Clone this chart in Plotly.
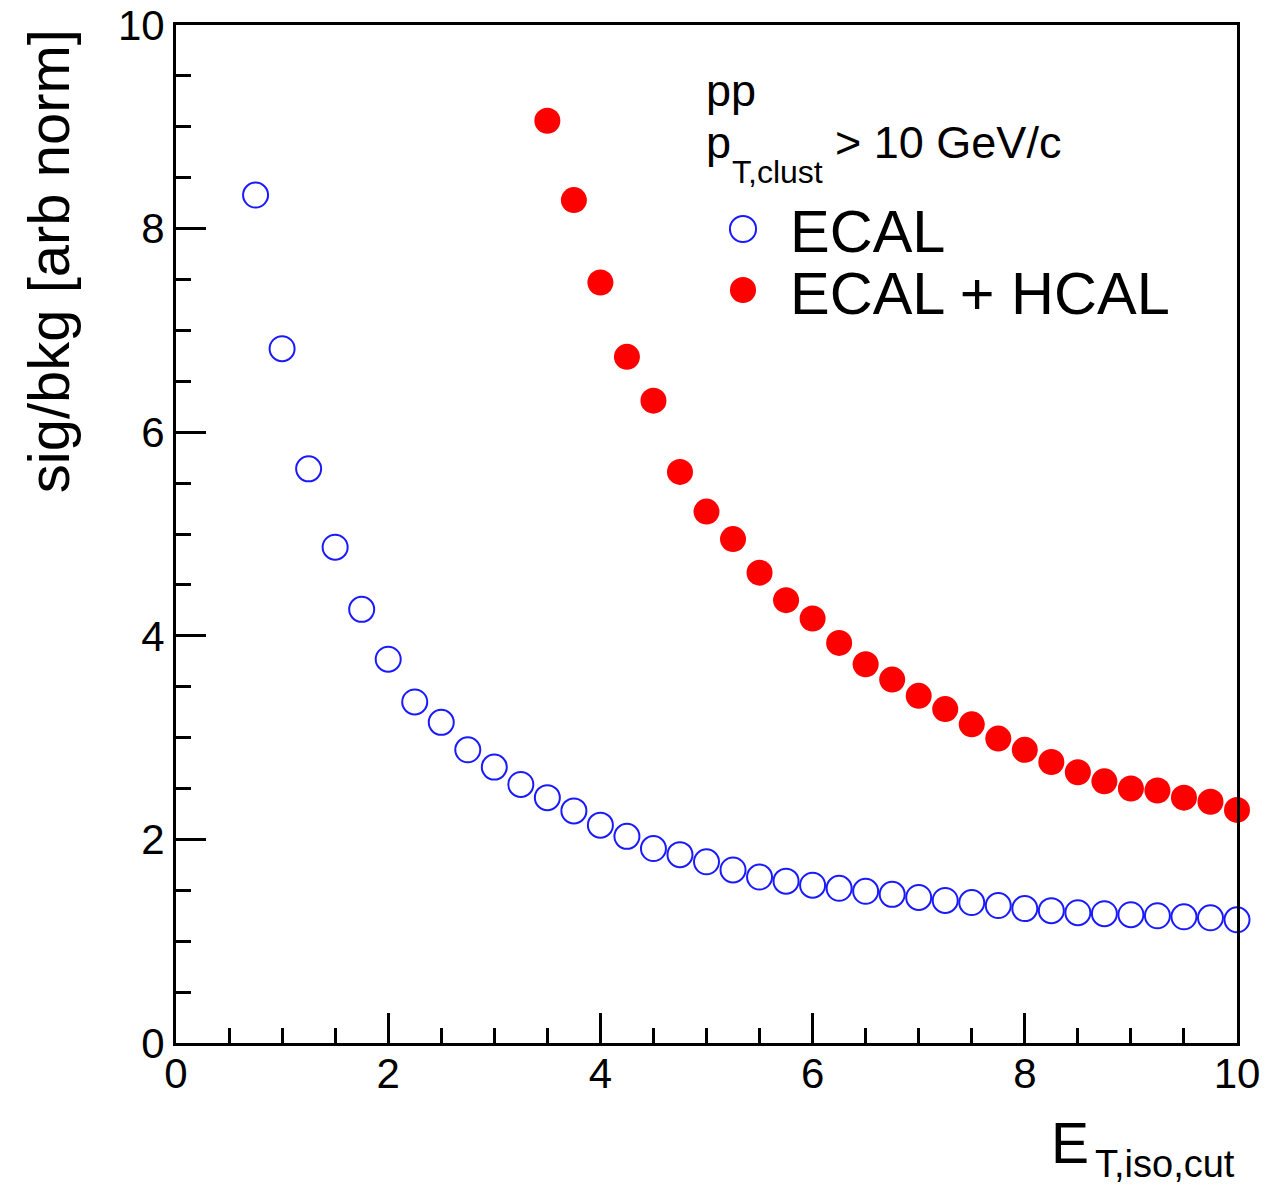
import plotly.graph_objects as go

x_ecal = [0.75, 1.0, 1.25, 1.5, 1.75, 2.0, 2.25, 2.5, 2.75, 3.0, 3.25, 3.5, 3.75, 4.0,
          4.25, 4.5, 4.75, 5.0, 5.25, 5.5, 5.75, 6.0, 6.25, 6.5, 6.75, 7.0, 7.25, 7.5,
          7.75, 8.0, 8.25, 8.5, 8.75, 9.0, 9.25, 9.5, 9.75, 10.0]
y_ecal = [8.33, 6.82, 5.64, 4.87, 4.26, 3.77, 3.35, 3.15, 2.88, 2.71, 2.54, 2.41, 2.28, 2.14,
          2.03, 1.91, 1.85, 1.78, 1.70, 1.63, 1.59, 1.55, 1.52, 1.49, 1.46, 1.43, 1.40, 1.38,
          1.35, 1.32, 1.30, 1.28, 1.27, 1.26, 1.25, 1.24, 1.23, 1.21]

x_hcal = [3.5, 3.75, 4.0, 4.25, 4.5, 4.75, 5.0, 5.25, 5.5, 5.75, 6.0, 6.25, 6.5, 6.75,
          7.0, 7.25, 7.5, 7.75, 8.0, 8.25, 8.5, 8.75, 9.0, 9.25, 9.5, 9.75, 10.0]
y_hcal = [9.06, 8.28, 7.47, 6.74, 6.31, 5.61, 5.22, 4.95, 4.62, 4.35, 4.17, 3.93, 3.72, 3.57,
          3.41, 3.28, 3.13, 2.99, 2.88, 2.76, 2.66, 2.57, 2.50, 2.48, 2.41, 2.37, 2.29]

names = ["ECAL", "ECAL + HCAL"]
BLUE = "#1a1aff"
RED = "#ff0000"
FONT = "Liberation Sans, Arial, Helvetica, sans-serif"

fig = go.Figure()
fig.add_trace(go.Scatter(
    x=x_ecal, y=y_ecal, mode="markers", name=names[0],
    marker=dict(symbol="circle-open", size=25, color=BLUE, line=dict(width=2, color=BLUE)),
    cliponaxis=False,
))
fig.add_trace(go.Scatter(
    x=x_hcal, y=y_hcal, mode="markers", name=names[1],
    marker=dict(symbol="circle", size=26, color=RED),
    cliponaxis=False,
))

axis_common = dict(
    range=[0, 10], showline=True, mirror=True, linecolor="black", linewidth=3,
    ticks="inside", ticklen=30, tickwidth=3, tickcolor="black",
    dtick=2, tick0=0, showgrid=False, zeroline=False, automargin=False,
    tickfont=dict(family=FONT, size=42, color="black"),
    minor=dict(ticks="inside", ticklen=15, tickwidth=3, tickcolor="black", dtick=0.5, showgrid=False),
)

fig.update_layout(
    width=1287, height=1187,
    margin=dict(l=176, r=50, t=25, b=144),
    paper_bgcolor="white", plot_bgcolor="white",
    xaxis=dict(**axis_common, ticklabelstandoff=-8),
    yaxis=dict(**axis_common),
    showlegend=False,
    font=dict(family=FONT, color="black"),
)

def ann(text, x, y, size, xanchor="left", yanchor="middle", angle=0):
    fig.add_annotation(text=text, xref="paper", yref="paper", x=x, y=y,
                       xanchor=xanchor, yanchor=yanchor, textangle=angle, showarrow=False,
                       font=dict(family=FONT, size=size, color="black"))

# axis titles
ann("E", 0.8228, -0.0982, 57)
ann("T,iso,cut", 1.0, -0.1189, 38, xanchor="right")
ann("sig/bkg [arb norm]", -0.1206, 0.768, 58, xanchor="center", angle=-90)

# header text
ann("pp", 0.4976, 0.9352, 45)
ann("p", 0.4976, 0.8841, 45)
ann("T,clust", 0.522, 0.8556, 32)
ann("> 10 GeV/c", 0.6192, 0.8841, 45)

# legend
ann(names[0], 0.5768, 0.797, 59.5)
ann(names[1], 0.5768, 0.7358, 59.5)
fig.add_shape(type="circle", xref="paper", yref="paper",
              x0=0.5221, x1=0.5467, y0=0.7868, y1=0.8124,
              line=dict(color=BLUE, width=2), fillcolor="rgba(0,0,0,0)")
fig.add_shape(type="circle", xref="paper", yref="paper",
              x0=0.5221, x1=0.5467, y0=0.7269, y1=0.7525,
              line=dict(color=RED, width=0), fillcolor=RED)

fig.write_html("out.html")
